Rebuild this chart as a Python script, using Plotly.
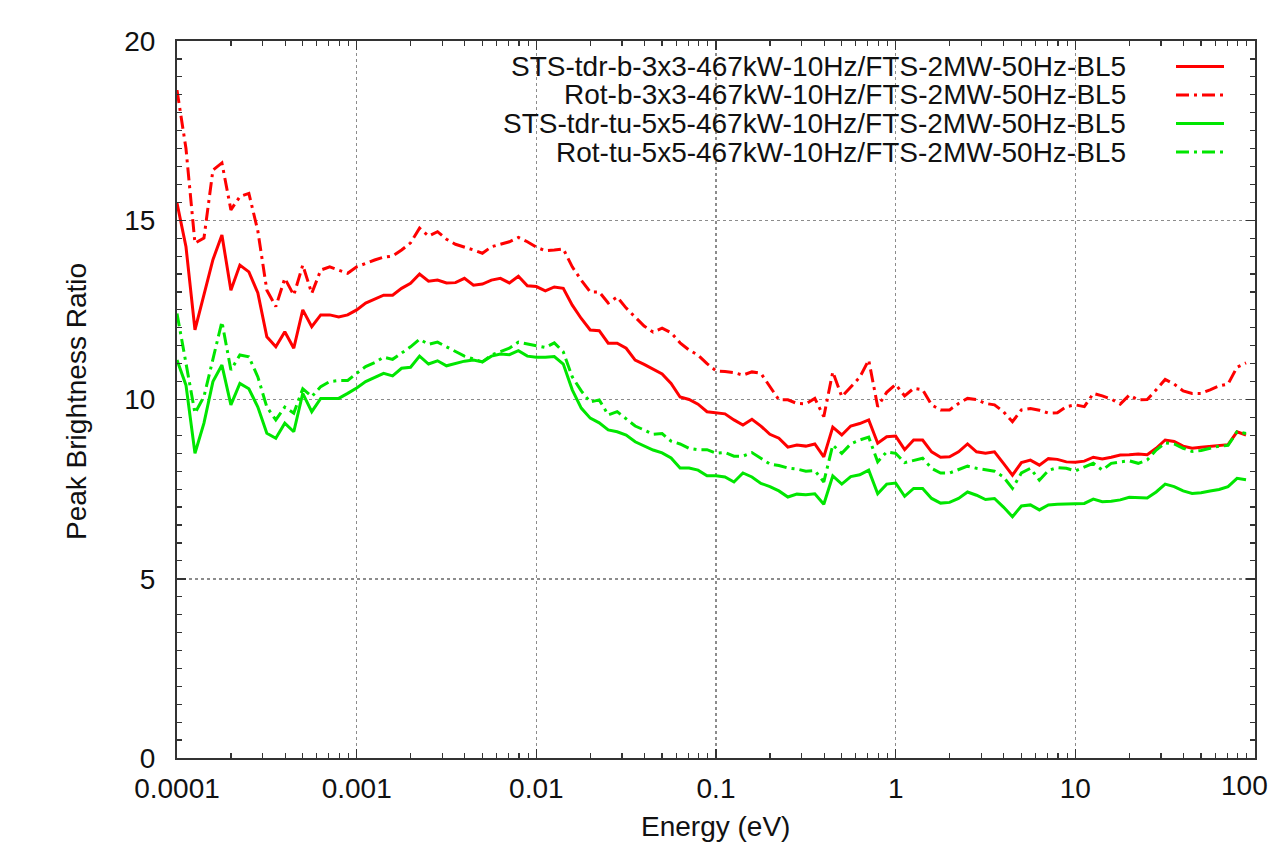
import plotly.graph_objects as go

# log10(Energy / eV) of each data point
LOG_E = [
    -4.00, -3.95, -3.90, -3.85, -3.80, -3.75, -3.70, -3.65, -3.60, -3.55,
    -3.50, -3.45, -3.40, -3.35, -3.30, -3.25, -3.20, -3.15, -3.10, -3.05,
    -3.00, -2.95, -2.90, -2.85, -2.80, -2.75, -2.70, -2.65, -2.60, -2.55,
    -2.50, -2.45, -2.40, -2.35, -2.30, -2.25, -2.20, -2.15, -2.10, -2.05,
    -2.00, -1.95, -1.90, -1.85, -1.80, -1.75, -1.70, -1.65, -1.60, -1.55,
    -1.50, -1.45, -1.40, -1.35, -1.30, -1.25, -1.20, -1.15, -1.10, -1.05,
    -1.00, -0.95, -0.90, -0.85, -0.80, -0.75, -0.70, -0.65, -0.60, -0.55,
    -0.50, -0.45, -0.40, -0.35, -0.30, -0.25, -0.20, -0.15, -0.10, -0.05,
    0.00, 0.05, 0.10, 0.15, 0.20, 0.25, 0.30, 0.35, 0.40, 0.45,
    0.50, 0.55, 0.60, 0.65, 0.70, 0.75, 0.80, 0.85, 0.90, 0.95,
    1.00, 1.05, 1.10, 1.15, 1.20, 1.25, 1.30, 1.35, 1.40, 1.45,
    1.50, 1.55, 1.60, 1.65, 1.70, 1.75, 1.80, 1.85, 1.90, 1.95,
]
ENERGY = [10 ** v for v in LOG_E]

STS_B = [
    15.48, 14.26, 11.94, 12.9, 13.9, 14.59, 13.05, 13.75, 13.56, 12.97,
    11.75, 11.47, 11.89, 11.43, 12.5, 12.03, 12.36, 12.36, 12.3, 12.36,
    12.5, 12.69, 12.8, 12.91, 12.91, 13.1, 13.24, 13.5, 13.3, 13.33,
    13.25, 13.26, 13.38, 13.19, 13.22, 13.33, 13.38, 13.25, 13.44, 13.17,
    13.15, 13.03, 13.14, 13.1, 12.63, 12.26, 11.94, 11.92, 11.57, 11.57,
    11.43, 11.1, 10.98, 10.84, 10.71, 10.45, 10.07, 10.0, 9.87, 9.66,
    9.64, 9.6, 9.43, 9.29, 9.45, 9.26, 9.03, 8.92, 8.67, 8.73,
    8.7, 8.76, 8.4, 9.23, 9.01, 9.26, 9.33, 9.43, 8.78, 8.96,
    8.98, 8.6, 8.87, 8.87, 8.54, 8.39, 8.4, 8.54, 8.76, 8.54,
    8.5, 8.54, 8.22, 7.89, 8.24, 8.31, 8.17, 8.35, 8.33, 8.26,
    8.25, 8.28, 8.39, 8.34, 8.39, 8.45, 8.46, 8.48, 8.46, 8.64,
    8.87, 8.83, 8.7, 8.64, 8.67, 8.7, 8.72, 8.74, 9.1, 9.01,
]

ROT_B = [
    18.63, 17.0, 14.36, 14.5, 16.4, 16.6, 15.29, 15.66, 15.75, 14.7,
    13.05, 12.59, 13.38, 12.91, 13.75, 12.96, 13.61, 13.7, 13.61, 13.52,
    13.7, 13.8, 13.89, 13.97, 14.0, 14.17, 14.37, 14.78, 14.56, 14.68,
    14.47, 14.33, 14.26, 14.17, 14.08, 14.26, 14.33, 14.4, 14.52, 14.4,
    14.25, 14.15, 14.17, 14.2, 13.7, 13.33, 13.0, 13.0, 12.69, 12.86,
    12.55, 12.3, 12.05, 11.88, 11.99, 11.86, 11.58, 11.38, 11.24, 11.0,
    10.8, 10.78, 10.75, 10.68, 10.77, 10.73, 10.36, 9.99, 9.99, 9.89,
    9.88, 10.03, 9.52, 10.77, 10.08, 10.36, 10.62, 11.1, 9.8, 10.2,
    10.42, 10.1, 10.31, 10.27, 9.85, 9.71, 9.71, 9.89, 10.03, 10.0,
    9.89, 9.85, 9.66, 9.38, 9.71, 9.75, 9.7, 9.62, 9.63, 9.8,
    9.85, 9.8, 10.17, 10.1, 10.01, 9.87, 10.12, 9.99, 10.0, 10.27,
    10.56, 10.43, 10.24, 10.17, 10.17, 10.27, 10.38, 10.43, 10.9, 11.02,
]

STS_TU = [
    11.1, 10.4, 8.5, 9.34, 10.5, 10.96, 9.85, 10.45, 10.3, 9.79,
    9.06, 8.92, 9.34, 9.1, 10.17, 9.66, 10.03, 10.03, 10.03, 10.17,
    10.32, 10.5, 10.62, 10.73, 10.66, 10.87, 10.9, 11.21, 10.99, 11.08,
    10.94, 11.01, 11.07, 11.1, 11.05, 11.21, 11.27, 11.25, 11.36, 11.21,
    11.18, 11.18, 11.2, 10.99, 10.27, 9.76, 9.48, 9.35, 9.15, 9.1,
    9.01, 8.82, 8.7, 8.59, 8.51, 8.37, 8.09, 8.09, 8.03, 7.87,
    7.87, 7.84, 7.7, 7.95, 7.84, 7.66, 7.57, 7.45, 7.28, 7.36,
    7.34, 7.37, 7.08, 7.87, 7.64, 7.85, 7.9, 8.03, 7.37, 7.64,
    7.67, 7.3, 7.52, 7.52, 7.24, 7.11, 7.13, 7.24, 7.42, 7.33,
    7.21, 7.24, 7.0, 6.73, 7.03, 7.06, 6.92, 7.06, 7.08, 7.08,
    7.08, 7.1, 7.22, 7.15, 7.16, 7.2, 7.27, 7.26, 7.25, 7.42,
    7.64, 7.57, 7.45, 7.38, 7.4, 7.45, 7.49, 7.57, 7.8, 7.76,
]

ROT_TU = [
    12.4, 11.0, 9.62, 10.08, 11.1, 12.17, 10.82, 11.24, 11.19, 10.63,
    9.79, 9.43, 9.79, 9.62, 10.3, 10.08, 10.36, 10.5, 10.53, 10.53,
    10.73, 10.92, 11.03, 11.18, 11.12, 11.29, 11.47, 11.68, 11.54, 11.6,
    11.47, 11.36, 11.21, 11.13, 11.05, 11.24, 11.33, 11.43, 11.6, 11.56,
    11.5, 11.45, 11.58, 11.33, 10.63, 10.24, 9.93, 9.99, 9.57, 9.66,
    9.45, 9.26, 9.15, 9.03, 9.05, 8.84, 8.76, 8.64, 8.6, 8.6,
    8.5, 8.52, 8.42, 8.42, 8.52, 8.37, 8.2, 8.16, 8.09, 8.06,
    8.0, 8.02, 7.7, 8.73, 8.5, 8.76, 8.87, 8.95, 8.26, 8.54,
    8.5, 8.24, 8.3, 8.36, 8.08, 7.95, 7.95, 8.04, 8.14, 8.08,
    8.04, 8.0, 7.84, 7.52, 7.95, 8.08, 7.75, 8.02, 8.1, 8.08,
    8.01, 8.12, 8.22, 8.03, 8.22, 8.26, 8.29, 8.22, 8.31, 8.59,
    8.79, 8.76, 8.64, 8.55, 8.58, 8.64, 8.7, 8.72, 9.1, 9.05,
]

SERIES_NAMES = [
    "STS-tdr-b-3x3-467kW-10Hz/FTS-2MW-50Hz-BL5",
    "Rot-b-3x3-467kW-10Hz/FTS-2MW-50Hz-BL5",
    "STS-tdr-tu-5x5-467kW-10Hz/FTS-2MW-50Hz-BL5",
    "Rot-tu-5x5-467kW-10Hz/FTS-2MW-50Hz-BL5",
]
SERIES_VALUES = [STS_B, ROT_B, STS_TU, ROT_TU]

X_TICK_VALS = [0.0001, 0.001, 0.01, 0.1, 1, 10, 100]
X_TICK_TEXT = ["0.0001", "0.001", "0.01", "0.1", "1", "10", "100"]
Y_TICK_VALS = [0, 5, 10, 15, 20]

RED = "#ff0000"
GREEN = "#00e600"
DASHDOT = "13px,5px,3px,5px"
STYLES = [
    dict(color=RED, dash="solid"),
    dict(color=RED, dash=DASHDOT),
    dict(color=GREEN, dash="solid"),
    dict(color=GREEN, dash=DASHDOT),
]

FONT = "Liberation Sans, Arial, Helvetica, sans-serif"
TXT = "#111111"
AXC = "#333333"
FS = 28

fig = go.Figure()
for name, vals, st in zip(SERIES_NAMES, SERIES_VALUES, STYLES):
    fig.add_trace(go.Scatter(
        x=ENERGY, y=vals, mode="lines", name=name,
        line=dict(color=st["color"], dash=st["dash"], width=3),
        showlegend=False,
    ))

# the page body margin is removed (see post_script), so the figure fills
# the 1272x844 window exactly
W, H = 1272, 844
L, R, T, B = 177, 17, 41, 86
PW, PH = W - L - R, H - T - B


def px_x(p):
    return (p - L) / PW


def px_y(p):
    return (H - B - p) / PH


# manual legend (text right-aligned, sample on the right, like gnuplot)
leg_rows = [66.5, 95, 123.5, 152]
annotations = []
shapes = []
for name, st, yy in zip(SERIES_NAMES, STYLES, leg_rows):
    annotations.append(dict(
        x=px_x(1128), y=px_y(yy), xref="paper", yref="paper",
        xanchor="right", yanchor="middle", text=name, showarrow=False,
        font=dict(family=FONT, size=FS, color=TXT),
    ))
    shapes.append(dict(
        type="line", xref="paper", yref="paper",
        x0=px_x(1176), x1=px_x(1224), y0=px_y(yy), y1=px_y(yy),
        line=dict(color=st["color"], dash=st["dash"], width=3),
    ))

annotations.append(dict(
    x=px_x(715), y=px_y(826), xref="paper", yref="paper",
    xanchor="center", yanchor="middle", text="Energy (eV)", showarrow=False,
    font=dict(family=FONT, size=FS, color=TXT),
))
annotations.append(dict(
    x=px_x(76), y=px_y(402), xref="paper", yref="paper",
    xanchor="center", yanchor="middle", text="Peak Brightness Ratio",
    showarrow=False, textangle=-90,
    font=dict(family=FONT, size=FS, color=TXT),
))
# last tick label, kept inside the page at the right edge
annotations.append(dict(
    x=px_x(1270), y=px_y(785), xref="paper", yref="paper",
    xanchor="right", yanchor="middle", text=X_TICK_TEXT[-1],
    showarrow=False, font=dict(family=FONT, size=FS, color=TXT),
))
axis_tick_text = X_TICK_TEXT[:-1] + [""]

fig.update_layout(
    width=W, height=H,
    margin=dict(l=L, r=R, t=T, b=B, pad=0, autoexpand=False),
    paper_bgcolor="white", plot_bgcolor="white",
    font=dict(family=FONT, size=FS, color=TXT),
    annotations=annotations, shapes=shapes,
    showlegend=False,
)

fig.update_xaxes(
    type="log", range=[-4, 2], automargin=False,
    tickvals=X_TICK_VALS, ticktext=axis_tick_text,
    ticks="inside", ticklen=9, tickwidth=1.5, tickcolor=AXC,
    showline=True, linecolor=AXC, linewidth=2, mirror="allticks",
    showgrid=True, gridcolor="#8c8c8c", griddash="dot", gridwidth=1.5,
    minor=dict(ticks="inside", ticklen=5, tickwidth=1.2, tickcolor=AXC,
               dtick="D1", showgrid=False),
    ticklabelstandoff=4, zeroline=False,
)
fig.update_yaxes(
    range=[0, 20], tickvals=Y_TICK_VALS, automargin=False,
    ticks="inside", ticklen=9, tickwidth=1.5, tickcolor=AXC,
    showline=True, linecolor=AXC, linewidth=2, mirror="allticks",
    showgrid=True, gridcolor="#8c8c8c", griddash="dot", gridwidth=1.5,
    minor=dict(ticks="inside", ticklen=5, tickwidth=1.2, tickcolor=AXC,
               dtick=0.5, showgrid=False),
    ticklabelstandoff=14, zeroline=False,
)

fig.write_html(
    "out.html",
    config={"displayModeBar": False, "staticPlot": True},
    post_script="document.body.style.margin='0';"
                "document.body.style.overflow='hidden';",
)
